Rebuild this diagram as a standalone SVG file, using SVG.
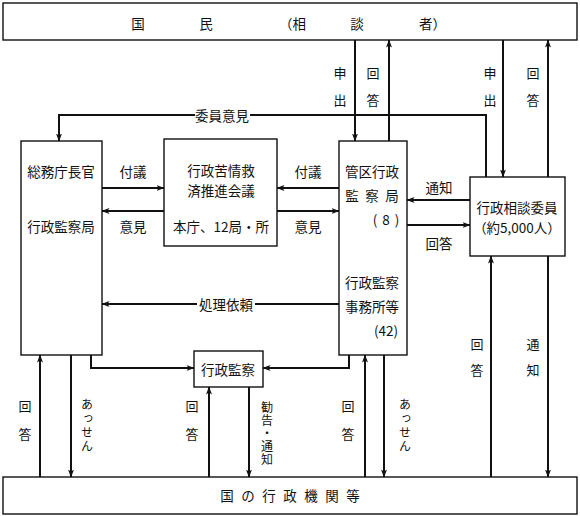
<svg xmlns="http://www.w3.org/2000/svg" width="580" height="516" viewBox="0 0 580 516">
<style>
.box{fill:#fff;stroke:#111;stroke-width:1.4}
.ln{fill:none;stroke:#111;stroke-width:2}
text{font-family:"Noto Sans CJK JP","Noto Sans CJK SC",sans-serif;font-size:13.5px;fill:#111;text-anchor:middle;dominant-baseline:central}
.v{font-size:13px}
.tb{font-size:12px;writing-mode:vertical-rl;text-anchor:start}
</style>
<defs>
<marker id="ah" markerUnits="userSpaceOnUse" markerWidth="8" markerHeight="8" viewBox="0 0 8 8" refX="7.5" refY="4" orient="auto">
<path d="M0,1 L8,4 L0,7 L2,4 Z" fill="#111"/>
</marker>
</defs>
<rect width="580" height="516" fill="#fff"/>

<g id="kokumin">
<rect class="box" x="3" y="3" width="574" height="37"/>
<text x="138" y="23">国</text>
<text x="206" y="23">民</text>
<text x="279" y="23" style="text-anchor:start">（相</text>
<text x="357" y="23">談</text>
<text x="419" y="23" style="text-anchor:start">者）</text>
</g>

<g id="choukan">
<rect class="box" x="21" y="141" width="81" height="214"/>
<text x="61" y="171">総務庁長官</text>
<text x="61" y="226">行政監察局</text>
</g>

<g id="kaigi">
<rect class="box" x="164" y="139" width="113" height="107"/>
<text x="221" y="170">行政苦情救</text>
<text x="221" y="190">済推進会議</text>
<text x="221" y="226">本庁、12局・所</text>
</g>

<g id="kanku">
<rect class="box" x="339" y="141" width="68" height="214"/>
<text x="372" y="171">管区行政</text>
<text x="352 372 392" y="195">監察局</text>
<text x="375 386 397" y="219">(8)</text>
<text x="372" y="282">行政監察</text>
<text x="372" y="306">事務所等</text>
<text x="386" y="330">(42)</text>
</g>

<g id="soudaniin">
<rect class="box" x="470" y="177" width="95" height="79"/>
<text x="517" y="207">行政相談委員</text>
<text x="517" y="227">（約5,000人）</text>
</g>

<g id="kansatsu">
<rect class="box" x="194" y="351" width="69" height="36"/>
<text x="228" y="369">行政監察</text>
</g>

<g id="kikan">
<rect class="box" x="3" y="477" width="574" height="37"/>
<text x="227 248 269 290 311 332 353" y="495">国の行政機関等</text>
</g>

<g id="connectors">
<path class="ln" d="M486,177 V115 H59 V141" marker-end="url(#ah)"/>
<path class="ln" d="M355,40 V141" marker-end="url(#ah)"/>
<path class="ln" d="M389,141 V40" marker-end="url(#ah)"/>
<path class="ln" d="M503,40 V177" marker-end="url(#ah)"/>
<path class="ln" d="M548,177 V40" marker-end="url(#ah)"/>
<path class="ln" d="M102,188 H164" marker-end="url(#ah)"/>
<path class="ln" d="M164,211 H102" marker-end="url(#ah)"/>
<path class="ln" d="M339,188 H277" marker-end="url(#ah)"/>
<path class="ln" d="M277,211 H339" marker-end="url(#ah)"/>
<path class="ln" d="M470,200 H407" marker-end="url(#ah)"/>
<path class="ln" d="M407,225 H470" marker-end="url(#ah)"/>
<path class="ln" d="M339,304 H102" marker-end="url(#ah)"/>
<path class="ln" d="M91,355 V368 H194" marker-end="url(#ah)"/>
<path class="ln" d="M349,355 V368 H263" marker-end="url(#ah)"/>
<path class="ln" d="M40,477 V355" marker-end="url(#ah)"/>
<path class="ln" d="M71,355 V477" marker-end="url(#ah)"/>
<path class="ln" d="M209,477 V387" marker-end="url(#ah)"/>
<path class="ln" d="M249,387 V477" marker-end="url(#ah)"/>
<path class="ln" d="M365,477 V355" marker-end="url(#ah)"/>
<path class="ln" d="M384,355 V477" marker-end="url(#ah)"/>
<path class="ln" d="M491,477 V256" marker-end="url(#ah)"/>
<path class="ln" d="M548,256 V477" marker-end="url(#ah)"/>
</g>

<g id="labels">
<rect x="195" y="107" width="55" height="16" fill="#fff"/>
<text x="222" y="115">委員意見</text>
<rect x="197" y="296" width="58" height="16" fill="#fff"/>
<text x="226" y="304">処理依頼</text>
<text x="133" y="171">付議</text>
<text x="133" y="226">意見</text>
<text x="308" y="171">付議</text>
<text x="308" y="226">意見</text>
<text x="439" y="187">通知</text>
<text x="439" y="243">回答</text>
<text class="v" x="340" y="72">申</text>
<text class="v" x="340" y="99">出</text>
<text class="v" x="373" y="72">回</text>
<text class="v" x="373" y="99">答</text>
<text class="v" x="490" y="72">申</text>
<text class="v" x="490" y="99">出</text>
<text class="v" x="533" y="72">回</text>
<text class="v" x="533" y="99">答</text>
<text class="v" x="25" y="405">回</text>
<text class="v" x="25" y="433">答</text>
<text class="tb" x="87" y="398" letter-spacing="2.3">あっせん</text>
<text class="v" x="192" y="405">回</text>
<text class="v" x="192" y="433">答</text>
<text class="tb" x="267" y="401" letter-spacing="1">勧告・通知</text>
<text class="v" x="348" y="405">回</text>
<text class="v" x="348" y="433">答</text>
<text class="tb" x="405" y="398" letter-spacing="2.3">あっせん</text>
<text class="v" x="477" y="343">回</text>
<text class="v" x="477" y="369">答</text>
<text class="v" x="533" y="343">通</text>
<text class="v" x="533" y="369">知</text>
</g>
</svg>
